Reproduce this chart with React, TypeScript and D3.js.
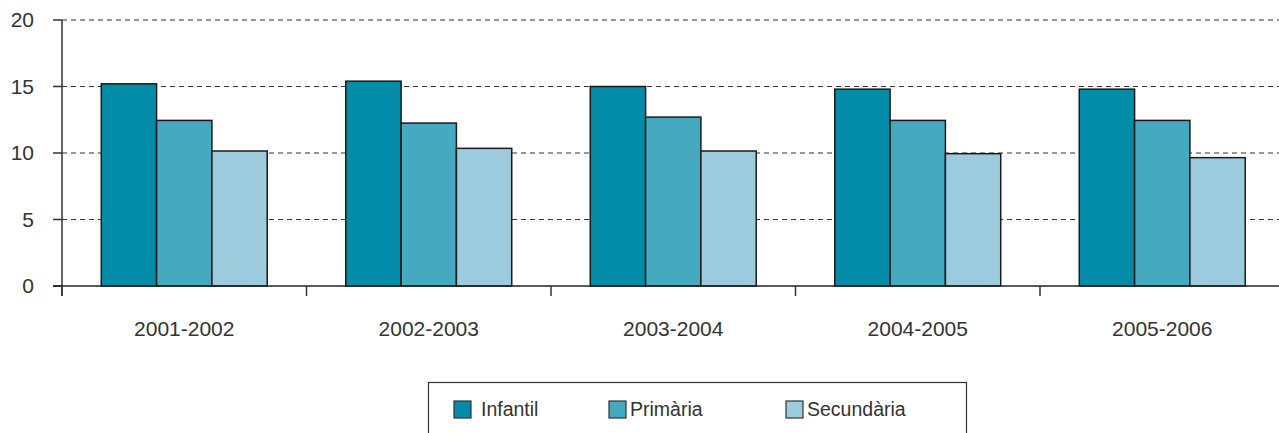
import React from "react";
import * as d3 from "d3";

const categories = ["2001-2002", "2002-2003", "2003-2004", "2004-2005", "2005-2006"];
const seriesNames = ["Infantil", "Primària", "Secundària"];
const infantil = [15.2, 15.4, 15.0, 14.8, 14.8];
const primaria = [12.45, 12.25, 12.7, 12.45, 12.45];
const secundaria = [10.15, 10.35, 10.15, 9.95, 9.65];
const colors = ["#028ca8", "#45a9c0", "#9bcbdc"];
const yTicks = [0, 5, 10, 15, 20];

const W = 1279;
const H = 433;

export default function App() {
  const values = [infantil, primaria, secundaria];
  const x = d3.scaleBand<string>().domain(categories).range([62, 1284.5]).padding(0);
  const x1 = d3
    .scaleBand<string>()
    .domain(seriesNames)
    .range([0, x.bandwidth()])
    .paddingInner(0)
    .paddingOuter(0.71);
  const y = d3.scaleLinear().domain([0, 20]).range([286, 20]);
  const font = "'Liberation Sans', Arial, Helvetica, sans-serif";
  const boundaries = categories.map((c) => x(c) as number);

  const legendX = [454, 609, 786];

  return (
    <svg
      width={W}
      height={H}
      style={{ position: "absolute", left: 0, top: 0, background: "#fff" }}
      fontFamily={font}
    >
      {/* grid lines */}
      {yTicks
        .filter((t) => t > 0)
        .map((t) => (
          <line
            key={"g" + t}
            x1={62}
            x2={W}
            y1={y(t)}
            y2={y(t)}
            stroke="#333"
            strokeWidth={1.2}
            strokeDasharray="5,4"
          />
        ))}
      {/* bars */}
      {categories.map((c, i) => (
        <g key={c} transform={`translate(${x(c)},0)`}>
          {seriesNames.map((s, j) => (
            <rect
              key={s}
              x={x1(s)}
              y={y(values[j][i])}
              width={x1.bandwidth()}
              height={y(0) - y(values[j][i])}
              fill={colors[j]}
              stroke="#1a1a1a"
              strokeWidth={1.5}
            />
          ))}
        </g>
      ))}
      {/* y axis */}
      <line x1={62} x2={62} y1={y(20)} y2={296} stroke="#333" strokeWidth={1.5} />
      {yTicks.map((t) => (
        <g key={"t" + t}>
          <line x1={53} x2={62} y1={y(t)} y2={y(t)} stroke="#333" strokeWidth={1.5} />
          <text
            x={34}
            y={y(t)}
            dy="0.35em"
            textAnchor="end"
            fontSize={21}
            fill="#333"
          >
            {t}
          </text>
        </g>
      ))}
      {/* x axis */}
      <line x1={53} x2={W} y1={y(0)} y2={y(0)} stroke="#222" strokeWidth={1.5} />
      {boundaries.map((b, i) => (
        <line key={"b" + i} x1={b} x2={b} y1={y(0)} y2={296} stroke="#333" strokeWidth={1.5} />
      ))}
      {categories.map((c) => (
        <text
          key={"l" + c}
          x={(x(c) as number) + x.bandwidth() / 2}
          y={329}
          dy="0.35em"
          textAnchor="middle"
          fontSize={21}
          fill="#333"
        >
          {c}
        </text>
      ))}
      {/* legend */}
      <rect x={428.5} y={382.5} width={538} height={70} fill="none" stroke="#333" strokeWidth={1.2} />
      {seriesNames.map((s, j) => (
        <g key={"lg" + s}>
          <rect
            x={legendX[j]}
            y={401}
            width={17}
            height={17}
            fill={colors[j]}
            stroke="#333"
            strokeWidth={1.2}
          />
          <text x={legendX[j] + (j === 0 ? 27 : 21)} y={409} dy="0.35em" fontSize={19.5} fill="#333">
            {s}
          </text>
        </g>
      ))}
    </svg>
  );
}
